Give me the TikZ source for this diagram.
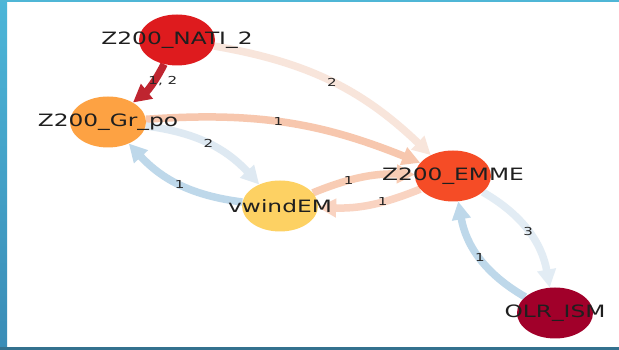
\documentclass[tikz,border=0pt]{standalone}
\usepackage{fontspec}
\newfontfamily\plotfont[FakeStretch=1.37]{DejaVu Sans}
\usetikzlibrary{arrows.meta, shapes.geometric}
\pgfdeclarelayer{back}
\pgfdeclarelayer{under}
\pgfsetlayers{back,under,main}
\definecolor{natired}{HTML}{DE1B1E}
\definecolor{gropo}{HTML}{FDA243}
\definecolor{windyel}{HTML}{FDD163}
\definecolor{emmered}{HTML}{F54C26}
\definecolor{olrred}{HTML}{A1002A}
\definecolor{darklink}{HTML}{BF2530}
\definecolor{paleorange}{HTML}{F8E5DB}
\definecolor{peach}{HTML}{F7C7AE}
\definecolor{peachtwo}{HTML}{F8CCB4}
\definecolor{peachthree}{HTML}{F9D3C1}
\definecolor{paleblue}{HTML}{DEE9F2}
\definecolor{paleblue2}{HTML}{E2ECF4}
\definecolor{skyblue}{HTML}{BED8EA}
\definecolor{stripa}{HTML}{4CB6D8}
\definecolor{stripb}{HTML}{3A8CB6}
\definecolor{stripc}{HTML}{4FB6D6}
\definecolor{stripd}{HTML}{34718E}
\tikzset{>={Triangle[width=18pt,length=18pt]}}
\tikzset{
  blob/.style={ellipse, minimum width=76pt, minimum height=51pt, inner sep=0pt},
  every label/.style={font=\plotfont\fontsize{17}{17}\selectfont, text=black!88, inner sep=0pt},
  link/.style={->, line width=7.5pt},
  num/.style={font=\plotfont\fontsize{11}{11}\selectfont, text=black!85, inner sep=0pt}
}

\begin{document}
\begin{tikzpicture}[x=1pt, y=1pt]
    \useasboundingbox (0,0) rectangle (619,350);
    \begin{pgfonlayer}{back}
    \fill[white] (0,0) rectangle (619,350);
    \shade[top color=stripa, bottom color=stripb] (0,0) rectangle (7,350);
    \fill[stripc] (0,347.5) rectangle (619,350);
    \fill[stripd] (0,0) rectangle (619,2.5);
    \end{pgfonlayer}

    \node[blob, fill=natired, label=center:Z200\_NATI\_2] (nati) at (177,310) {};
    \node[blob, fill=gropo, label=center:Z200\_Gr\_po] (grpo) at (108,228) {};
    \node[blob, fill=windyel, label=center:vwindEM] (vwind) at (280,144) {};
    \node[blob, fill=emmered, label=center:Z200\_EMME] (emme) at (453,174) {};
    \node[blob, fill=olrred, label=center:OLR\_ISM] (olr) at (555,37) {};

    \begin{pgfonlayer}{under}
    \draw[link, darklink, bend left=12] (nati) to node[num, xshift=12pt, yshift=4pt] {1, 2} (grpo);
    \draw[link, paleorange, bend left=17] (nati) to node[num] {2} (emme);
    \draw[link, peach, bend left=13] (grpo) to node[num, pos=0.47] {1} (emme);
    \draw[link, paleblue, bend left=20] (grpo) to node[num] {2} (vwind);
    \draw[link, skyblue, bend left=20] (vwind) to node[num] {1} (grpo);
    \draw[link, peachtwo, bend left=12] (vwind) to node[num, pos=0.35] {1} (emme);
    \draw[link, peachthree, bend left=12] (emme) to node[num, pos=0.37] {1} (vwind);
    \draw[link, paleblue2, bend left=25] (emme) to node[num] {3} (olr);
    \draw[link, skyblue, bend left=25] (olr) to node[num] {1} (emme);
    \end{pgfonlayer}
\end{tikzpicture}
\end{document}
